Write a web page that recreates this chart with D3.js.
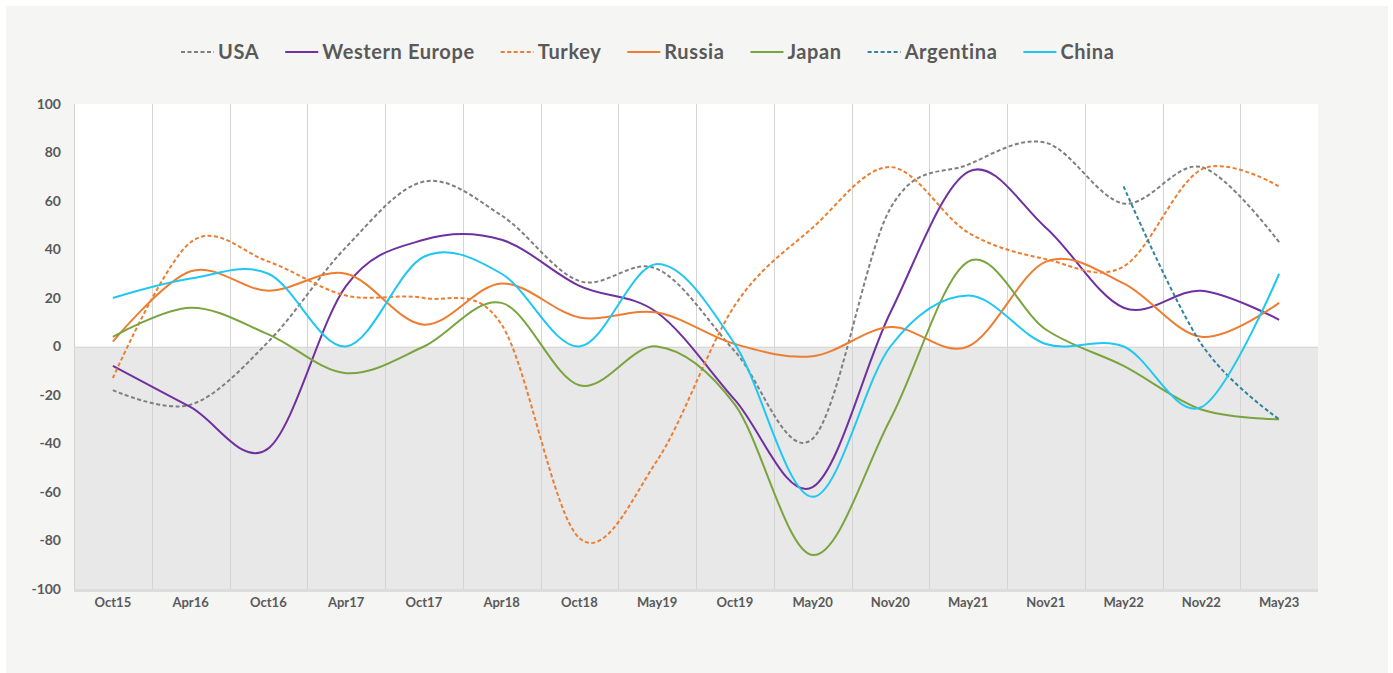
<!DOCTYPE html>
<html>
<head>
<meta charset="utf-8">
<script src="https://cdn.jsdelivr.net/npm/d3@7"></script>
<style>
  html, body { margin: 0; padding: 0; background: #ffffff; }
  svg { display: block; }
  text { font-family: Lato, "Open Sans", sans-serif; font-weight: 700; fill: #595959; }
</style>
</head>
<body>
<svg id="chart" width="1393" height="673"></svg>
<script>
// ---------- DATA ----------
const categories = ["Oct15","Apr16","Oct16","Apr17","Oct17","Apr18","Oct18","May19","Oct19","May20","Nov20","May21","Nov21","May22","Nov22","May23"];
const usa        = [-18, -24,   2,  41,  68,  54,  27,  32,  -2, -38,  57,  75,  84,  59,  74,  43];
const westEurope = [ -8, -25, -42,  25,  44,  44,  25,  14, -22, -58,  14,  72,  49,  16,  23,  11];
const turkey     = [-13,  43,  35,  21,  20,   9, -79, -47,  17,  49,  74,  47,  36,  33,  73,  66];
const russia     = [  2,  31,  23,  30,   9,  26,  12,  14,   1,  -4,   8,   0,  35,  26,   4,  18];
const japan      = [  4,  16,   5, -11,   0,  18, -16,   0, -24, -86, -30,  35,   7,  -8, -26, -30];
const argentina  = [null,null,null,null,null,null,null,null,null,null,null,null,null, 66,   1, -30];
const china      = [ 20,  28,  30,   0,  37,  30,   0,  34,   1, -62,   0,  21,   1,   0, -25,  30];
const yTicks     = [-100, -80, -60, -40, -20, 0, 20, 40, 60, 80, 100];

const seriesNames = ["USA","Western Europe","Turkey","Russia","Japan","Argentina","China"];
const seriesData  = [usa, westEurope, turkey, russia, japan, argentina, china];
const seriesColor = ["#7f7f7f","#7030a0","#ed7d31","#ed7d31","#7aa43e","#31849b","#1fc7f2"];
const seriesDash  = [true, false, true, false, false, true, false];

// ---------- LAYOUT ----------
const svg = d3.select("#chart");
const W = 1393, H = 673;
const plot = { left: 74, right: 1318, top: 104, bottom: 589 };

svg.append("rect").attr("x", 6).attr("y", 6).attr("width", 1382).attr("height", H - 6).attr("fill", "#f5f5f3");

const x = d3.scaleBand().domain(categories).range([plot.left, plot.right]);
const y = d3.scaleLinear().domain([-100, 100]).range([plot.bottom, plot.top]);
const cx = c => x(c) + x.bandwidth() / 2;

// plot background: white above zero, grey below
svg.append("rect").attr("x", plot.left).attr("y", y(100))
  .attr("width", plot.right - plot.left).attr("height", y(0) - y(100)).attr("fill", "#ffffff");
svg.append("rect").attr("x", plot.left).attr("y", y(0))
  .attr("width", plot.right - plot.left).attr("height", y(-100) - y(0)).attr("fill", "#e8e8e8");

// vertical gridlines at category boundaries
svg.append("g").selectAll("line").data(categories).join("line")
  .attr("x1", d => Math.round(x(d)) + 0.5).attr("x2", d => Math.round(x(d)) + 0.5)
  .attr("y1", y(100)).attr("y2", y(-100))
  .attr("stroke", "#d4d4d4").attr("stroke-width", 1);

// zero line
svg.append("line").attr("x1", plot.left).attr("x2", plot.right)
  .attr("y1", Math.round(y(0)) + 0.5).attr("y2", Math.round(y(0)) + 0.5)
  .attr("stroke", "#d9d9d9").attr("stroke-width", 1);

// bottom axis line
svg.append("line").attr("x1", plot.left).attr("x2", plot.right)
  .attr("y1", y(-100) + 1.5).attr("y2", y(-100) + 1.5)
  .attr("stroke", "#dcdcdc").attr("stroke-width", 3);

// y axis labels
const yAxis = d3.axisLeft(y).tickValues(yTicks).tickFormat(d => String(d)).tickSize(0).tickPadding(0);
const ya = svg.append("g").attr("transform", `translate(61,0)`).call(yAxis);
ya.select(".domain").remove();
ya.selectAll("text").attr("font-size", 14).style("font-family", "Lato, sans-serif")
  .style("font-weight", 700).attr("fill", "#595959");

// x axis labels
const xAxis = d3.axisBottom(x).tickSize(0).tickPadding(0);
const xa = svg.append("g").attr("transform", `translate(0,598)`).call(xAxis);
xa.select(".domain").remove();
xa.selectAll("text").attr("font-size", 13).style("font-family", "Lato, sans-serif")
  .style("font-weight", 700).attr("fill", "#595959").attr("dy", "0.71em");

// lines
const line = d3.line()
  .defined(d => d.v !== null)
  .x(d => cx(d.c))
  .y(d => y(d.v))
  .curve(d3.curveCardinal.tension(0));

seriesNames.forEach((name, i) => {
  const pts = categories.map((c, j) => ({ c, v: seriesData[i][j] }));
  svg.append("path")
    .datum(pts)
    .attr("d", line)
    .attr("fill", "none")
    .attr("stroke", seriesColor[i])
    .attr("stroke-width", 2)
    .attr("stroke-dasharray", seriesDash[i] ? "4,2.5" : null)
    .attr("stroke-linejoin", "round");
});

// legend
const legend = svg.append("g");
let lx = 181;
const ly = 52;
seriesNames.forEach((name, i) => {
  legend.append("line")
    .attr("x1", lx).attr("x2", lx + 33).attr("y1", ly).attr("y2", ly)
    .attr("stroke", seriesColor[i]).attr("stroke-width", 2)
    .attr("stroke-dasharray", seriesDash[i] ? "4,2.5" : null);
  const t = legend.append("text")
    .attr("x", lx + 37).attr("y", ly).attr("dy", "0.35em")
    .attr("font-size", 20).attr("letter-spacing", "0.6px").text(name);
  const w = t.node().getComputedTextLength();
  lx += 37 + w + 26;
});
</script>
</body>
</html>
